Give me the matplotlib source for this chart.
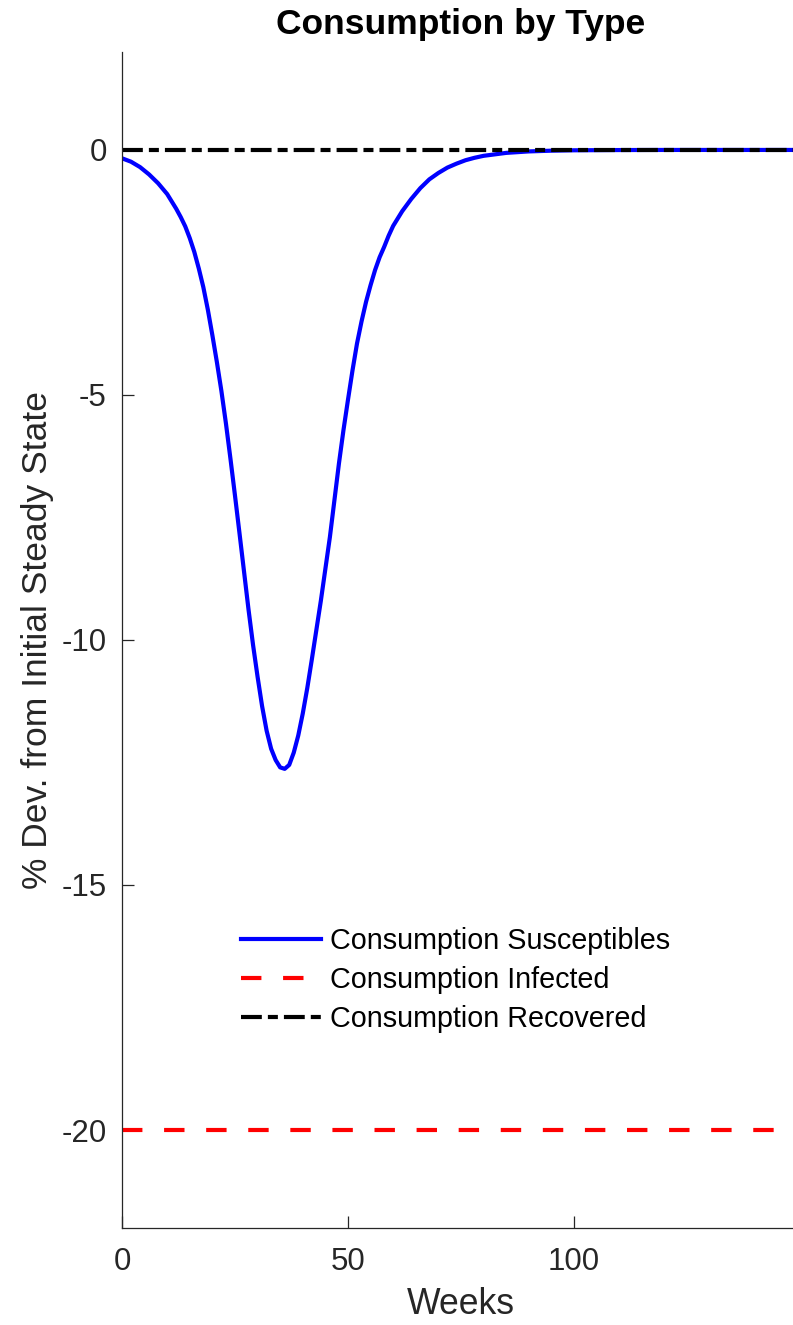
import numpy as np
import matplotlib.pyplot as plt

plt.rcParams["font.family"] = ["Liberation Sans", "DejaVu Sans"]
plt.rcParams["axes.unicode_minus"] = False

# --- data ---
weeks = [0, 2, 4, 6, 8, 10, 12, 13, 14, 15, 16, 17, 18, 19, 20, 21, 22, 23, 24,
         25, 26, 27, 28, 29, 30, 31, 32, 33, 34, 35, 36, 37, 38, 39, 40, 41, 42,
         43, 44, 45, 46, 47, 48, 49, 50, 51, 52, 53, 54, 55, 56, 57, 58, 59, 60,
         62, 64, 66, 68, 70, 72, 74, 76, 78, 80, 85, 90, 95, 100, 110, 120, 130,
         140, 150]
c_susceptible = [-0.17, -0.24, -0.35, -0.50, -0.68, -0.90, -1.20, -1.37, -1.56,
                 -1.80, -2.08, -2.42, -2.80, -3.26, -3.78, -4.33, -4.92, -5.58,
                 -6.30, -7.05, -7.82, -8.60, -9.38, -10.10, -10.75, -11.35,
                 -11.85, -12.22, -12.45, -12.60, -12.63, -12.55, -12.30, -11.95,
                 -11.50, -10.98, -10.40, -9.80, -9.20, -8.55, -7.90, -7.15, -6.40,
                 -5.72, -5.10, -4.50, -3.95, -3.50, -3.10, -2.76, -2.45, -2.19,
                 -1.98, -1.75, -1.55, -1.25, -1.00, -0.78, -0.60, -0.47, -0.36,
                 -0.28, -0.21, -0.16, -0.12, -0.06, -0.03, -0.015, -0.007,
                 -0.002, 0.0, 0.0, 0.0, 0.0]
infected_level = -20.0
recovered_level = 0.0

c_infected = [infected_level] * len(weeks)
c_recovered = [recovered_level] * len(weeks)

labels = ["Consumption Susceptibles", "Consumption Infected", "Consumption Recovered"]

# --- figure ---
# the axes run a little past the right edge of the image (cropped export)
fig = plt.figure(figsize=(7.93, 13.25), dpi=100)
ax = fig.add_axes([0.1538, 0.0732, 0.855, 0.8876])

ax.plot(weeks, c_susceptible, color="blue", lw=3, solid_joinstyle="round",
        label=labels[0])
ax.plot(weeks, c_infected, color="red", lw=3, dashes=[4.9, 5.2], label=labels[1])
ax.plot(weeks, c_recovered, color="black", lw=3, dashes=[5.0, 1.45, 2.4, 1.45],
        label=labels[2])

ax.set_xlim(0, 150)
ax.set_ylim(-22, 2)
ax.set_xticks([0, 50, 100])
ax.set_yticks([0, -5, -10, -15, -20])

grey = "#262626"
for side in ["top", "right"]:
    ax.spines[side].set_visible(False)
for side in ["left", "bottom"]:
    ax.spines[side].set_color(grey)
    ax.spines[side].set_linewidth(0.9)
ax.tick_params(direction="in", length=8.5, width=0.9, color=grey,
               labelcolor=grey, labelsize=22.5)
ax.tick_params(axis="y", pad=11)
ax.tick_params(axis="x", pad=14)

ax.set_xlabel("Weeks", fontsize=25.7, color=grey, labelpad=7)
ax.set_ylabel("% Dev. from Initial Steady State", fontsize=25.5, color=grey, labelpad=5)
ax.set_title("Consumption by Type", fontsize=25.5, fontweight="bold", pad=13)

ax.legend(loc="upper left", bbox_to_anchor=(0.1585, 0.2655), frameon=False,
          fontsize=20.7, handlelength=2.8, handletextpad=0.3, labelspacing=0.38,
          borderaxespad=0)

fig.savefig("out.png", dpi=100)
